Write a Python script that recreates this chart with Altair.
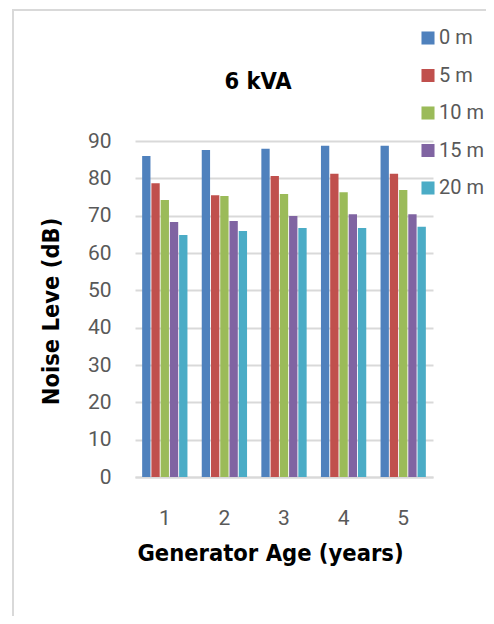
import altair as alt
import pandas as pd

ages = ["1", "2", "3", "4", "5"]
distances = ["0 m", "5 m", "10 m", "15 m", "20 m"]
noise_0m = [86.0, 87.6, 87.9, 88.7, 88.7]
noise_5m = [78.7, 75.5, 80.6, 81.2, 81.2]
noise_10m = [74.2, 75.3, 75.8, 76.3, 76.9]
noise_15m = [68.3, 68.6, 69.9, 70.4, 70.4]
noise_20m = [64.8, 65.9, 66.7, 66.7, 67.0]
colors = ["#4F81BD", "#C0504D", "#9BBB59", "#8064A2", "#4BACC6"]
chart_title = ["6 kVA"]

series = [noise_0m, noise_5m, noise_10m, noise_15m, noise_20m]
rows = []
for d, vals in zip(distances, series):
    for a, v in zip(ages, vals):
        rows.append({"age": a, "dist": d, "noise": v})
df = pd.DataFrame(rows)

BOLD = "DejaVu Sans Condensed"
REG = "Roboto"

bars = alt.Chart(df).mark_bar().encode(
    x=alt.X("age:N", sort=ages,
            scale=alt.Scale(paddingInner=0.24, paddingOuter=0.12),
            axis=alt.Axis(title="Generator Age (years)", labelAngle=0, ticks=False,
                          domain=True, domainColor="#d9d9d9", domainWidth=2,
                          labelPadding=30, labelFontSize=21, labelColor="#595959",
                          labelFont=REG,
                          titleFont=BOLD, titleFontWeight="bold", titleFontSize=23.5,
                          titleColor="#000000", titleX=135, titleY=76,
                          titleBaseline="middle", titleAnchor="middle")),
    xOffset=alt.XOffset("dist:N", sort=distances, scale=alt.Scale(paddingInner=0.1)),
    y=alt.Y("noise:Q", scale=alt.Scale(domain=[0, 90], nice=False),
            axis=alt.Axis(title="Noise Leve (dB)", values=list(range(0, 91, 10)),
                          ticks=False, domain=False, grid=True, gridColor="#d9d9d9",
                          gridWidth=2, labelPadding=24, labelFontSize=21,
                          labelColor="#595959", labelFont=REG,
                          titleFont=BOLD, titleFontWeight="bold", titleFontSize=23.5,
                          titleColor="#000000", titleX=-84, titleY=170,
                          titleAngle=-90, titleBaseline="middle", titleAnchor="middle")),
    color=alt.Color("dist:N", sort=distances,
                    scale=alt.Scale(domain=distances, range=colors),
                    legend=alt.Legend(title=None, orient="none", legendX=283, legendY=-113,
                                      symbolType="square", symbolSize=170,
                                      symbolStrokeWidth=0, labelFontSize=20,
                                      labelColor="#595959", labelFont=REG,
                                      rowPadding=17.5, labelOffset=1)),
)

frame = alt.Chart(pd.DataFrame({"k": [0]})).mark_rect(
    fill=None, stroke="#d9d9d9", strokeWidth=2
).encode(
    x=alt.value(-122), x2=alt.value(420), y=alt.value(-131), y2=alt.value(520)
)

title = alt.Chart(pd.DataFrame({"t": chart_title})).mark_text(
    font=BOLD, fontWeight="bold", fontSize=23.5, color="#000000",
    align="center", baseline="middle"
).encode(text="t:N", x=alt.value(123), y=alt.value(-59))

chart = alt.layer(frame, bars, title).properties(
    width=298, height=336,
    autosize=alt.AutoSizeParams(type="none"),
    padding={"left": 127, "top": 133, "right": 53, "bottom": 139},
).configure_view(strokeWidth=0)

chart.save("out.html", embed_options={"renderer": "svg", "actions": False})
